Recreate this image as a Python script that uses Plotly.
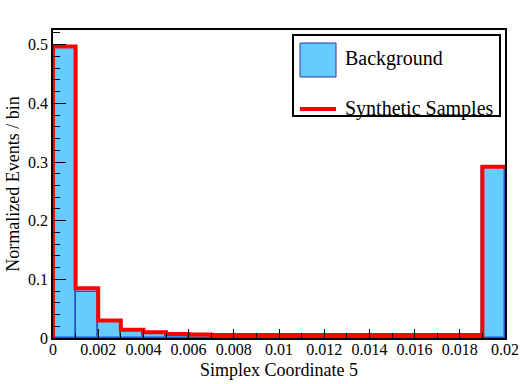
"""Normalized distribution of simplex coordinate 5: background vs synthetic samples"""

import plotly.graph_objects as go

# binning: 20 bins from 0 to 0.02
bin_edges = [i * 0.001 for i in range(21)]
bin_centers = [(bin_edges[i] + bin_edges[i + 1]) / 2 for i in range(20)]

background = [0.495, 0.078, 0.027, 0.012, 0.008, 0.006, 0.005, 0.004, 0.004, 0.004,
              0.004, 0.004, 0.004, 0.004, 0.004, 0.004, 0.004, 0.004, 0.004, 0.290]
synthetic = [0.497, 0.085, 0.030, 0.014, 0.010, 0.007, 0.006, 0.005, 0.005, 0.005,
             0.005, 0.005, 0.005, 0.005, 0.005, 0.005, 0.005, 0.005, 0.005, 0.292]

x_ticks = [0, 0.002, 0.004, 0.006, 0.008, 0.01, 0.012, 0.014, 0.016, 0.018, 0.02]
x_ticktext = ["0", "0.002", "0.004", "0.006", "0.008", "0.01", "0.012", "0.014", "0.016", "0.018", "0.02"]
y_ticks = [0, 0.1, 0.2, 0.3, 0.4, 0.5]
y_ticktext = ["0", "0.1", "0.2", "0.3", "0.4", "0.5"]

FILL = "#66ccff"
EDGE = "#1f55c8"
RED = "#ff0000"
FONT = "Liberation Serif"

# plot area in pixels (532x384 window)
L, R, T, B = 53, 505, 30, 338
W, H = 532, 384


def px(x):
    return (x - L) / (R - L)


def py(y):
    return (B - y) / (B - T)


fig = go.Figure()
fig.add_trace(go.Bar(
    x=bin_centers, y=background, width=0.001,
    marker=dict(color=FILL, line=dict(color=EDGE, width=1.5)),
    name="Background", showlegend=False,
))
# step outline for synthetic samples
step_x = [bin_edges[0]] + bin_edges
step_y = [0] + synthetic + [synthetic[-1]]
fig.add_trace(go.Scatter(
    x=step_x, y=step_y, mode="lines", line=dict(color=RED, width=4, shape="hv"),
    name="Synthetic Samples", showlegend=False,
))

# hand-drawn legend box, ROOT style
shapes = [
    dict(type="rect", xref="paper", yref="paper", x0=px(293), x1=px(500), y0=py(116), y1=py(35),
         line=dict(color="black", width=2), fillcolor="white", layer="above"),
    dict(type="rect", xref="paper", yref="paper", x0=px(300), x1=px(336), y0=py(77), y1=py(43),
         line=dict(color="#2a3a9a", width=1), fillcolor=FILL, layer="above"),
    dict(type="line", xref="paper", yref="paper", x0=px(300), x1=px(336), y0=py(109), y1=py(109),
         line=dict(color=RED, width=4), layer="above"),
]
annotations = [
    dict(text="Background", xref="paper", yref="paper", x=px(343), y=py(59), xanchor="left",
         yanchor="middle", showarrow=False, font=dict(family=FONT, size=20, color="black")),
    dict(text="Synthetic Samples", xref="paper", yref="paper", x=px(343), y=py(108), xanchor="left",
         yanchor="middle", showarrow=False, font=dict(family=FONT, size=20, color="black")),
    # x axis title, placed like ROOT does
    dict(text="Simplex Coordinate 5", xref="paper", yref="paper", x=px(279), y=py(370),
         xanchor="center", yanchor="middle", showarrow=False, borderpad=0,
         font=dict(family=FONT, size=18, color="black")),
]

fig.update_layout(
    width=W, height=H,
    margin=dict(l=L, r=W - R, t=T, b=H - B),
    paper_bgcolor="white", plot_bgcolor="white",
    font=dict(family=FONT, size=16, color="black"),
    bargap=0, shapes=shapes, annotations=annotations,
    xaxis=dict(
        range=[0, 0.02], tickvals=x_ticks, ticktext=x_ticktext, automargin=False,
        ticks="inside", ticklen=9, tickwidth=1, tickcolor="black", ticklabelstandoff=-4,
        minor=dict(ticks="inside", ticklen=5, dtick=0.001, tick0=0, tickcolor="black"),
        showline=True, linecolor="black", linewidth=1.5, mirror=True,
        showgrid=False, zeroline=False,
        tickfont=dict(size=16),
    ),
    yaxis=dict(
        range=[0, 0.525], tickvals=y_ticks, ticktext=y_ticktext, automargin=False,
        ticks="inside", ticklen=13, tickwidth=1, tickcolor="black",
        minor=dict(ticks="inside", ticklen=7, dtick=0.02, tick0=0, tickcolor="black"),
        showline=True, linecolor="black", linewidth=1.5, mirror=True,
        showgrid=False, zeroline=False,
        title=dict(text="Normalized Events / bin", font=dict(size=18), standoff=4),
        tickfont=dict(size=16),
    ),
)

fig.write_html("out.html", config={"displayModeBar": False},
               post_script="document.body.style.margin='0px';")
